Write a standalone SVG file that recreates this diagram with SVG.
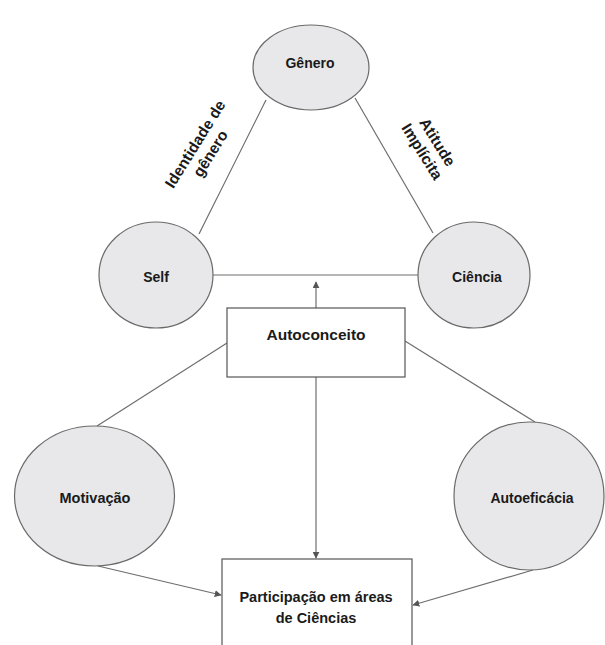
<svg xmlns="http://www.w3.org/2000/svg" width="605" height="645" viewBox="0 0 605 645">
<style>
.bg{fill:#ffffff}
.node ellipse{fill:#e8e8ea;stroke:#6a6a6a;stroke-width:1.2}
.node rect{fill:#ffffff;stroke:#555555;stroke-width:1.2}
.lbl{font-family:"Liberation Sans",Arial,sans-serif;font-weight:bold;fill:#1a1a1a;text-anchor:middle}
.conn line{stroke:#6e6e6e;stroke-width:1.2;fill:none}
</style>
<defs>
<marker id="ah" viewBox="0 0 10 10" refX="9" refY="5" markerWidth="7" markerHeight="7" markerUnits="userSpaceOnUse" orient="auto">
<path d="M0,0 L10,5 L0,10 z" fill="#555555"/>
</marker>
</defs>
<rect class="bg" x="0" y="0" width="605" height="645"/>
<g id="connectors" class="conn">
<line x1="266" y1="100" x2="199" y2="234"/>
<line x1="355" y1="98" x2="433" y2="233"/>
<line x1="213" y1="275" x2="418" y2="275"/>
<line x1="316" y1="308" x2="316" y2="282" marker-end="url(#ah)"/>
<line x1="227" y1="343" x2="97" y2="426"/>
<line x1="405" y1="341" x2="535" y2="422"/>
<line x1="316" y1="377" x2="316" y2="558" marker-end="url(#ah)"/>
<line x1="98" y1="566" x2="221" y2="595" marker-end="url(#ah)"/>
<line x1="533" y1="570" x2="413" y2="605" marker-end="url(#ah)"/>
</g>
<g id="genero" class="node">
<ellipse cx="311" cy="67.5" rx="58" ry="42.5"/>
<text class="lbl" x="310" y="68" font-size="14">Gênero</text>
</g>
<g id="self" class="node">
<ellipse cx="156" cy="275" rx="57" ry="53"/>
<text class="lbl" x="156" y="282" font-size="14">Self</text>
</g>
<g id="ciencia" class="node">
<ellipse cx="474" cy="275" rx="56" ry="53"/>
<text class="lbl" x="477" y="282" font-size="14">Ciência</text>
</g>
<g id="autoconceito" class="node">
<rect x="227" y="308" width="178" height="69"/>
<text class="lbl" x="316" y="340" font-size="15.5">Autoconceito</text>
</g>
<g id="motivacao" class="node">
<ellipse cx="94.5" cy="496" rx="80" ry="70"/>
<text class="lbl" x="95" y="503" font-size="14.5">Motivação</text>
</g>
<g id="autoeficacia" class="node">
<ellipse cx="529" cy="496" rx="75" ry="74"/>
<text class="lbl" x="532" y="503" font-size="14">Autoeficácia</text>
</g>
<g id="participacao" class="node">
<rect x="222" y="559" width="190" height="110"/>
<text class="lbl" x="316" y="602" font-size="14.5">Participação em áreas</text>
<text class="lbl" x="316" y="623" font-size="14.5">de Ciências</text>
</g>
<g id="label-identidade">
<g transform="translate(203,149) rotate(-58)">
<text class="lbl" x="0" y="-4" font-size="15.5">Identidade de</text>
<text class="lbl" x="0" y="14" font-size="15.5">gênero</text>
</g>
</g>
<g id="label-atitude">
<g transform="translate(429.5,147) rotate(58)">
<text class="lbl" x="0" y="-4" font-size="15.5">Atitude</text>
<text class="lbl" x="0" y="14" font-size="15.5">Implícita</text>
</g>
</g>
</svg>
